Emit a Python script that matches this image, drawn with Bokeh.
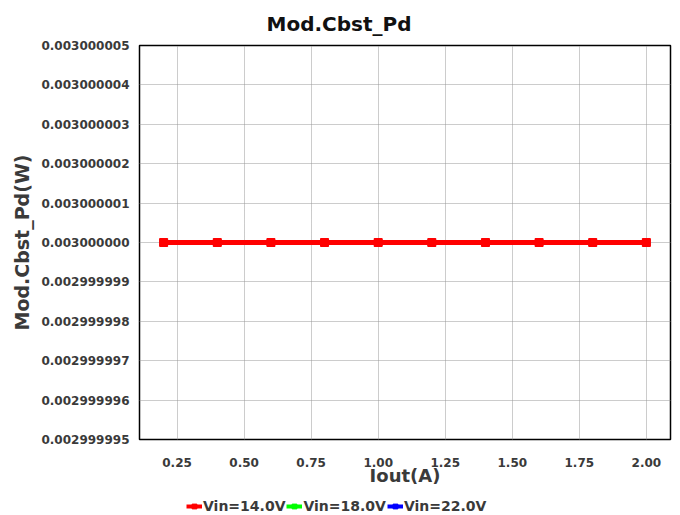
from bokeh.plotting import figure
from bokeh.layouts import column
from bokeh.models import Range1d, FixedTicker, PrintfTickFormatter, Legend, LegendItem
from bokeh.embed import file_html
from bokeh.resources import INLINE

iout = [0.2, 0.4, 0.6, 0.8, 1.0, 1.2, 1.4, 1.6, 1.8, 2.0]
pd_14v = [0.003, 0.003, 0.003, 0.003, 0.003, 0.003, 0.003, 0.003, 0.003, 0.003]
pd_18v = [0.003, 0.003, 0.003, 0.003, 0.003, 0.003, 0.003, 0.003, 0.003, 0.003]
pd_22v = [0.003, 0.003, 0.003, 0.003, 0.003, 0.003, 0.003, 0.003, 0.003, 0.003]
series_names = ["Vin=14.0V", "Vin=18.0V", "Vin=22.0V"]
series_colors = ["#ff0000", "#00ff00", "#0000ff"]
x_ticks = [0.25, 0.50, 0.75, 1.00, 1.25, 1.50, 1.75, 2.00]
y_tick_labels = ["0.002999995", "0.002999996", "0.002999997", "0.002999998",
                 "0.002999999", "0.003000000", "0.003000001", "0.003000002",
                 "0.003000003", "0.003000004", "0.003000005"]
y_ticks = [float(s) for s in y_tick_labels]

FONT = "DejaVu Sans"
TXT = "#3a3a3a"

p = figure(width=680, height=495, output_backend="svg", toolbar_location=None,
           x_range=Range1d(0.11, 2.09), y_range=Range1d(y_ticks[0], y_ticks[-1]),
           min_border_left=139, min_border_right=10, min_border_top=44, min_border_bottom=56)

p.title.text = "Mod.Cbst_Pd"
p.title.align = "left"
p.title.offset = 127
p.title.standoff = 19
p.title.text_font = FONT
p.title.text_font_style = "bold"
p.title.text_font_size = "20px"
p.title.text_color = "#111111"

p.outline_line_color = "black"
p.outline_line_width = 1.5
p.background_fill_color = "white"
p.border_fill_color = "white"

for ax in (p.xaxis[0], p.yaxis[0]):
    ax.axis_line_color = None
    ax.major_tick_line_color = None
    ax.minor_tick_line_color = None
    ax.major_tick_out = 0
    ax.major_tick_in = 0
    ax.minor_tick_out = 0
    ax.minor_tick_in = 0
    ax.major_label_text_font = FONT
    ax.major_label_text_font_style = "bold"
    ax.major_label_text_font_size = "12px"
    ax.major_label_text_color = TXT
    ax.axis_label_text_font = FONT
    ax.axis_label_text_font_style = "bold"
    ax.axis_label_text_color = TXT

p.xaxis.ticker = FixedTicker(ticks=x_ticks)
p.xaxis.formatter = PrintfTickFormatter(format="%.2f")
p.xaxis.major_label_standoff = 18
p.xaxis.axis_label = "Iout(A)"
p.xaxis.axis_label_text_font_size = "18px"
p.xaxis.axis_label_standoff = -5

p.yaxis.ticker = FixedTicker(ticks=y_ticks)
p.yaxis.formatter = PrintfTickFormatter(format="%.9f")
p.yaxis.major_label_standoff = 10
p.yaxis.axis_label = "Mod.Cbst_Pd(W)"
p.yaxis.axis_label_text_font_size = "19px"
p.yaxis.axis_label_standoff = 5

for g in (p.xgrid[0], p.ygrid[0]):
    g.grid_line_color = "#999999"
    g.grid_line_dash = "1 1"
    g.grid_line_width = 1
p.xgrid.ticker = FixedTicker(ticks=x_ticks)
p.ygrid.ticker = FixedTicker(ticks=y_ticks)

series_values = [pd_14v, pd_18v, pd_22v]
line_widths = [5, 4, 4]
marker_sizes = [8, 7, 7]
# draw green, blue, then red on top
for i in (1, 2, 0):
    p.line(iout, series_values[i], line_color=series_colors[i], line_width=line_widths[i])
    p.scatter(iout, series_values[i], marker="square", size=marker_sizes[i],
              fill_color=series_colors[i], line_color=series_colors[i])

# legend strip below the chart (its own series copies lie outside its visible range)
leg = figure(width=680, height=20, output_backend="svg", toolbar_location=None,
             x_range=Range1d(0, 1), y_range=Range1d(1, 2),
             x_axis_location=None, y_axis_location=None,
             min_border_left=0, min_border_right=0, min_border_top=0, min_border_bottom=0)
leg.outline_line_color = None
leg.xgrid.visible = False
leg.ygrid.visible = False
leg.border_fill_color = "white"
leg.background_fill_color = "white"
items = []
for i, (name, col) in enumerate(zip(series_names, series_colors)):
    l = leg.line(iout, series_values[i], line_color=col, line_width=4)
    s = leg.scatter(iout, series_values[i], marker="square", size=7, fill_color=col, line_color=col)
    items.append(LegendItem(label=name, renderers=[l, s]))
legend = Legend(items=items, orientation="horizontal", location=(47, 1),
                label_text_font=FONT, label_text_font_style="bold",
                label_text_font_size="14px", label_text_color=TXT,
                glyph_width=16, glyph_height=12, label_standoff=1, spacing=1,
                padding=0, margin=0, background_fill_alpha=0, border_line_color=None)
leg.add_layout(legend, "center")

layout = column(p, leg, spacing=0)
open("out.html", "w").write(file_html(layout, INLINE))
